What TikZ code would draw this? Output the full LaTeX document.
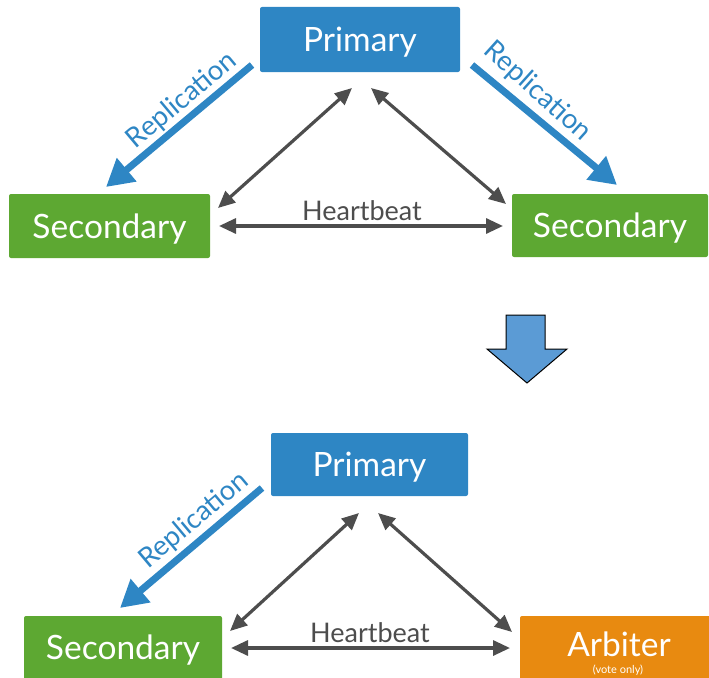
\documentclass[tikz,border=0pt]{standalone}
\usepackage{fontspec}
\setmainfont{Lato}
\usetikzlibrary{arrows.meta}
\definecolor{pblue}{HTML}{2E86C4}
\definecolor{sgreen}{HTML}{5DA832}
\definecolor{aorange}{HTML}{E88A10}
\definecolor{hgray}{HTML}{4D4D4D}
\definecolor{dblue}{HTML}{5B9BD5}
\tikzset{
  box/.style={rounded corners=2pt, text=white, inner sep=0pt, font=\fontsize{33.5}{33.5}\selectfont, text height=24pt, text depth=0pt},
  primbox/.style={box, fill=pblue},
  secbox/.style={box, fill=sgreen},
  arbbox/.style={box, fill=aorange},
  boxtext/.style={text=white, inner sep=0pt, font=\fontsize{33.5}{33.5}\selectfont, text height=24pt, text depth=0pt},
  notetext/.style={text=white, inner sep=0pt, font=\fontsize{11}{11}\selectfont},
  repl/.style={pblue, line width=7pt, -{Triangle[width=29pt,length=27pt]}},
  repltext/.style={text=pblue, font=\fontsize{27.5}{27.5}\selectfont, inner sep=0pt, text height=19.5pt, text depth=0pt},
  hb/.style={hgray, line width=3.2pt, {Triangle[width=15pt,length=17pt]}-{Triangle[width=15pt,length=17pt]}},
  hbtext/.style={text=hgray, font=\fontsize{27}{27}\selectfont, inner sep=0pt, text height=19.4pt, text depth=0pt},
  downarrow/.style={fill=dblue, draw=black, line width=1pt, line join=miter}
}
\begin{document}
\begin{tikzpicture}[x=1pt,y=-1pt]
\useasboundingbox (0,0) rectangle (709,677);
\clip (0,0) rectangle (709,677);
% ---------- top diagram ----------
\node[primbox, minimum width=200pt, minimum height=65pt] (p1) at (360,39.5) {Primary};
\node[secbox, minimum width=201pt, minimum height=64pt] (s1) at (109.5,226) {Secondary};
\node[secbox, minimum width=196pt, minimum height=63pt] (s2) at (610,225.5) {Secondary};

\coordinate (r1a) at (252,65);  \coordinate (r1b) at (106,187);
\coordinate (r2a) at (472,65);  \coordinate (r2b) at (617,185);
\draw[repl] (r1a) -- (r1b);
\draw[repl] (r2a) -- (r2b);
\node[repltext, rotate=40] (rt1) at (181,99) {Replication};
\node[repltext, rotate=-42] (rt2) at (539,90) {Replication};

\coordinate (h1a) at (352,88);  \coordinate (h1b) at (218,208);
\coordinate (h2a) at (371,88);  \coordinate (h2b) at (506,204);
\coordinate (h3a) at (219,226); \coordinate (h3b) at (503,226);
\draw[hb] (h1a) -- (h1b);
\draw[hb] (h2a) -- (h2b);
\draw[hb] (h3a) -- (h3b);
\node[hbtext] (ht1) at (362,211) {Heartbeat};

% ---------- down arrow ----------
\draw[downarrow] (506,315) -- (545,315) -- (545,349) -- (567,349) -- (527,383) -- (487,349) -- (506,349) -- cycle;

% ---------- bottom diagram ----------
\node[primbox, minimum width=197pt, minimum height=63pt] (p2) at (369.5,464.5) {Primary};
\node[secbox, minimum width=198pt, minimum height=68pt] (s3) at (123,650) {};
\node[boxtext] (s3t) at (123,647.5) {Secondary};
\node[arbbox, minimum width=196pt, minimum height=68pt] (a1) at (618,650) {};
\node[boxtext] (a1t) at (619,644) {Arbiter};
\node[notetext] (a1n) at (618,670) {(vote only)};

\coordinate (r3a) at (262,488); \coordinate (r3b) at (120,608);
\draw[repl] (r3a) -- (r3b);
\node[repltext, rotate=40] (rt3) at (193,519) {Replication};

\coordinate (h4a) at (359,513); \coordinate (h4b) at (230,631);
\coordinate (h5a) at (378,513); \coordinate (h5b) at (512,632);
\coordinate (h6a) at (231,648); \coordinate (h6b) at (510,648);
\draw[hb] (h4a) -- (h4b);
\draw[hb] (h5a) -- (h5b);
\draw[hb] (h6a) -- (h6b);
\node[hbtext] (ht2) at (370,632.5) {Heartbeat};
\end{tikzpicture}
\end{document}
